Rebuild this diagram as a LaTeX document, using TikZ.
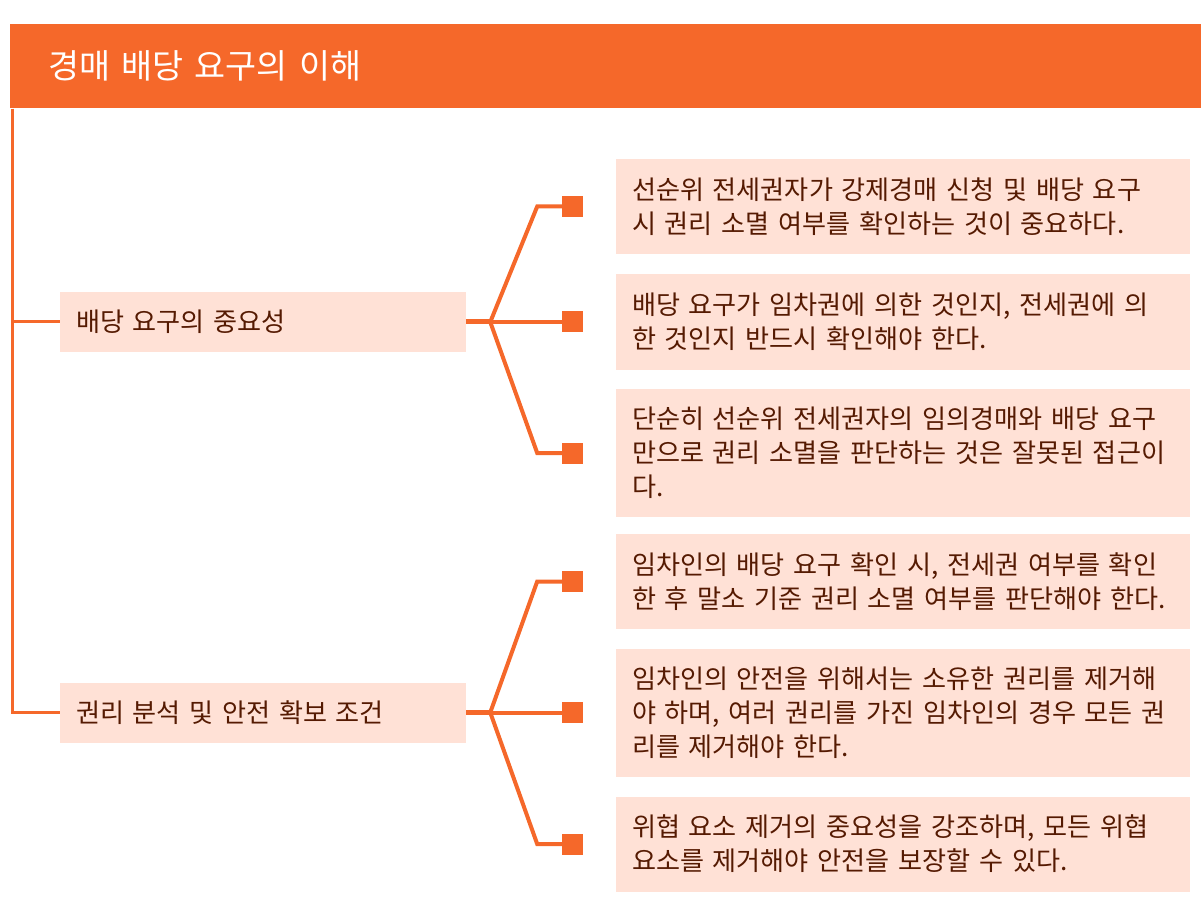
\documentclass[tikz,border=0pt]{standalone}
\usepackage{fontspec}
\setmainfont{Noto Sans CJK KR}
\usetikzlibrary{positioning}
\definecolor{brandorange}{HTML}{F5682A}
\definecolor{paleorange}{HTML}{FFE1D6}
\definecolor{darkbrown}{HTML}{551A02}
\begin{document}
\begin{tikzpicture}[x = .75pt, y = -.75pt,
    topic/.style = {fill = paleorange, text = darkbrown, inner xsep = 12pt,
                    font = \fontsize{19.6}{25.5}\selectfont,
                    minimum height = 45pt, text width = 280.5pt, align = left},
    detail/.style = {fill = paleorange, text = darkbrown, inner xsep = 12pt,
                     font = \fontsize{19.6}{25.5}\selectfont,
                     minimum height = 71.25pt, text width = 406.5pt, align = left},
    marker/.style = {fill = brandorange, minimum size = 15.75pt, inner sep = 0pt},
    trunk/.style = {draw = brandorange, line width = 2.25pt},
    stub/.style = {draw = brandorange, line width = 3.75pt},
    branch/.style = {draw = brandorange, line width = 3pt}]
      \useasboundingbox (0,0) rectangle (1201,919);
      \node (title) [anchor = north west, fill = brandorange, text = white,
                     font = \fontsize{25.3}{28}\selectfont, inner xsep = 28.5pt,
                     minimum height = 63pt, text width = 836.25pt, align = left]
        at (10,24) {경매 배당 요구의 이해};
      \node (k1) [topic] at (263,322) {배당 요구의 중요성};
      \node (k2) [topic] at (263,712.5) {권리 분석 및 안전 확보 조건};
      \node (d1) [detail] at (903,206.5)
        {선순위 전세권자가 강제경매 신청 및 배당 요구\\시 권리 소멸 여부를 확인하는 것이 중요하다.};
      \node (d2) [detail] at (903,322)
        {배당 요구가 임차권에 의한 것인지, 전세권에 의\\한 것인지 반드시 확인해야 한다.};
      \node (d3) [detail, minimum height = 96pt] at (903,453)
        {단순히 선순위 전세권자의 임의경매와 배당 요구\\만으로 권리 소멸을 판단하는 것은 잘못된 접근이\\다.};
      \node (d4) [detail] at (903,581.5)
        {임차인의 배당 요구 확인 시, 전세권 여부를 확인\\한 후 말소 기준 권리 소멸 여부를 판단해야 한다.};
      \node (d5) [detail, minimum height = 96pt] at (903,712.5)
        {임차인의 안전을 위해서는 소유한 권리를 제거해\\야 하며, 여러 권리를 가진 임차인의 경우 모든 권\\리를 제거해야 한다.};
      \node (d6) [detail] at (903,844)
        {위협 요소 제거의 중요성을 강조하며, 모든 위협\\요소를 제거해야 안전을 보장할 수 있다.};
      \node (m1) [marker, left = 24pt of d1] {};
      \node (m2) [marker, left = 24pt of d2] {};
      \node (m3) [marker, left = 24pt of d3] {};
      \node (m4) [marker, left = 24pt of d4] {};
      \node (m5) [marker, left = 24pt of d5] {};
      \node (m6) [marker, left = 24pt of d6] {};
      \coordinate (j1) at ([xshift = 18pt]k1.east);
      \coordinate (j2) at ([xshift = 18pt]k2.east);
      \draw [trunk] ([xshift = 1.5pt]title.south west) |- (k1.west);
      \draw [trunk] ([xshift = 1.5pt]title.south west) |- (k2.west);
      \draw [stub] (k1.east) -- (j1);
      \draw [stub] (k2.east) -- (j2);
      \draw [branch] (j1) -- ([xshift = -18.75pt]m1.west) -- (m1);
      \draw [branch] (j1) -- (m2);
      \draw [branch] (j1) -- ([xshift = -18.75pt]m3.west) -- (m3);
      \draw [branch] (j2) -- ([xshift = -18.75pt]m4.west) -- (m4);
      \draw [branch] (j2) -- (m5);
      \draw [branch] (j2) -- ([xshift = -18.75pt]m6.west) -- (m6);
    \end{tikzpicture}
\end{document}
